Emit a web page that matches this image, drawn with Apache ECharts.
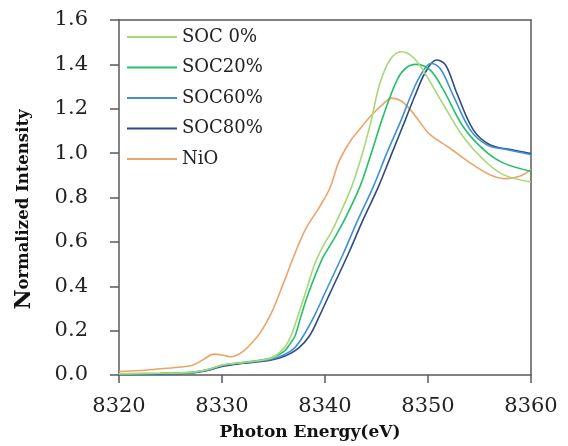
<!DOCTYPE html>
<html>
<head>
<meta charset="utf-8">
<script src="https://cdn.jsdelivr.net/npm/echarts@6/dist/echarts.min.js"></script>
<style>html,body{margin:0;padding:0;background:#fff}#c{width:568px;height:446px}</style>
</head>
<body>
<div id="c"></div>
<script>
// Data: [photon energy (eV), normalized intensity]
const xTicks = [8320, 8330, 8340, 8350, 8360];
const yTicks = [0.0, 0.2, 0.4, 0.6, 0.8, 1.0, 1.2, 1.4, 1.6];
const seriesNames = ['SOC 0%', 'SOC20%', 'SOC60%', 'SOC80%', 'NiO'];

const soc0 = [[8320,0.005],[8324,0.008],[8327,0.012],[8328.8,0.027],[8330.1,0.045],[8332.1,0.057],[8334.7,0.075],[8336,0.12],[8336.7,0.177],[8337.4,0.27],[8338.1,0.37],[8339,0.5],[8339.8,0.58],[8340.5,0.635],[8341.1,0.69],[8342.6,0.85],[8343.7,1.01],[8344.5,1.15],[8345.3,1.31],[8346.3,1.42],[8347.4,1.457],[8348.6,1.43],[8349.9,1.345],[8351.5,1.218],[8353.4,1.075],[8355.4,0.97],[8357.3,0.903],[8360,0.87]];
const soc20 = [[8320,0.005],[8324,0.008],[8327,0.012],[8328.8,0.027],[8330.1,0.045],[8332.1,0.057],[8334.7,0.075],[8336,0.105],[8336.6,0.14],[8337.1,0.177],[8337.7,0.27],[8338.4,0.37],[8339.7,0.52],[8340.7,0.6],[8341.9,0.70],[8343.4,0.85],[8344.5,1.0],[8345.6,1.16],[8347,1.33],[8347.9,1.385],[8348.8,1.40],[8350.2,1.375],[8351.5,1.285],[8353.4,1.12],[8355.4,1.016],[8357.3,0.956],[8360,0.918]];
const soc60 = [[8320,0.003],[8324,0.006],[8327,0.01],[8328.8,0.025],[8330.1,0.043],[8332.1,0.055],[8334.7,0.07],[8336,0.09],[8337,0.12],[8337.9,0.177],[8339,0.27],[8340,0.37],[8341.8,0.55],[8343.2,0.70],[8344.7,0.85],[8346,1.0],[8347.4,1.15],[8348.3,1.255],[8349.2,1.345],[8350.3,1.405],[8351.2,1.38],[8352.5,1.255],[8354.1,1.105],[8355.7,1.038],[8357.6,1.016],[8360,0.993]];
const soc80 = [[8320,0.002],[8324,0.005],[8327,0.009],[8328.8,0.023],[8330.1,0.04],[8332.1,0.053],[8334.7,0.067],[8336,0.083],[8337.4,0.12],[8338.5,0.177],[8339.5,0.27],[8340.5,0.37],[8342.3,0.55],[8343.7,0.70],[8345.2,0.85],[8346.5,1.0],[8347.8,1.15],[8348.7,1.255],[8349.7,1.36],[8350.8,1.42],[8351.7,1.398],[8352.8,1.27],[8354.4,1.105],[8356,1.038],[8358,1.016],[8360,0.998]];
const nio = [[8320,0.015],[8322,0.02],[8324,0.028],[8326,0.036],[8327.2,0.045],[8328.2,0.07],[8329.2,0.094],[8330,0.09],[8330.9,0.082],[8332,0.105],[8333,0.15],[8333.7,0.19],[8334.8,0.28],[8336.1,0.43],[8337.1,0.55],[8338.1,0.656],[8339.5,0.76],[8340.5,0.845],[8341.3,0.956],[8342.4,1.05],[8343.4,1.11],[8344.4,1.165],[8345.5,1.215],[8346.5,1.248],[8347.4,1.235],[8348.3,1.195],[8349.2,1.14],[8350.2,1.083],[8352.1,1.023],[8354.1,0.956],[8356,0.903],[8357.6,0.885],[8358.9,0.896],[8360,0.926]];

const seriesData = [soc0, soc20, soc60, soc80, nio];
const colors = ['#a6d879', '#27bf67', '#3d92d6', '#2f4b86', '#eda46a'];

const chart = echarts.init(document.getElementById('c'), null, {renderer: 'canvas'});
const axisColor = '#595959';
const font = 'DejaVu Serif';
chart.setOption({
  backgroundColor: '#fff',
  animation: false,
  color: colors,
  grid: {left: 119, right: 37, top: 20, bottom: 70, containLabel: false},
  legend: {
    orient: 'vertical', left: 127, top: 27, padding: 0,
    icon: 'rect', itemWidth: 50, itemHeight: 2, itemGap: 10.5,
    data: seriesNames,
    textStyle: {fontFamily: font, fontSize: 18, color: '#222', lineHeight: 20}
  },
  xAxis: [{
    type: 'value', min: xTicks[0], max: xTicks[xTicks.length-1], interval: 10,
    axisLine: {show: true, lineStyle: {color: axisColor, width: 1.5}},
    axisTick: {show: true, inside: false, length: 8, lineStyle: {color: axisColor, width: 1.5}},
    splitLine: {show: false},
    axisLabel: {fontFamily: font, fontSize: 21, color: '#222', margin: 21, formatter: v => String(v)},
    name: 'Photon Energy(eV)', nameLocation: 'middle', nameGap: 49,
    nameTextStyle: {fontFamily: font, fontSize: 17, fontWeight: 'bold', color: '#111', padding: [0, 30, 0, 0]}
  }, {
    type: 'value', position: 'top', min: xTicks[0], max: xTicks[xTicks.length-1],
    axisLine: {show: true, onZero: false, lineStyle: {color: axisColor, width: 1.5}},
    axisTick: {show: false}, axisLabel: {show: false}, splitLine: {show: false}
  }],
  yAxis: [{
    type: 'value', min: yTicks[0], max: yTicks[yTicks.length-1], interval: 0.2,
    axisLine: {show: true, lineStyle: {color: axisColor, width: 1.5}},
    axisTick: {show: true, inside: false, length: 9, lineStyle: {color: axisColor, width: 1.5}},
    splitLine: {show: false},
    axisLabel: {fontFamily: font, fontSize: 21, color: '#222', margin: 31, formatter: v => v.toFixed(1)},
    name: '{n|N}{r|ormalized Intensity}', nameLocation: 'middle', nameGap: 84, nameRotate: 90,
    nameTextStyle: {
      padding: [0, 24, 0, 0],
      rich: {
        n: {fontFamily: font, fontSize: 22, fontWeight: 'bold', color: '#111'},
        r: {fontFamily: font, fontSize: 16.5, fontWeight: 'bold', color: '#111'}
      }
    }
  }, {
    type: 'value', position: 'right', min: yTicks[0], max: yTicks[yTicks.length-1],
    axisLine: {show: true, onZero: false, lineStyle: {color: axisColor, width: 1.5}},
    axisTick: {show: false}, axisLabel: {show: false}, splitLine: {show: false}
  }],
  series: seriesNames.map((name, i) => ({
    name: name, type: 'line', data: seriesData[i], smooth: 0.35,
    symbol: 'none', showSymbol: false, clip: true,
    lineStyle: {width: 1.6, color: colors[i]}, itemStyle: {color: colors[i]}, z: 5 - i
  }))
});
</script>
</body>
</html>
